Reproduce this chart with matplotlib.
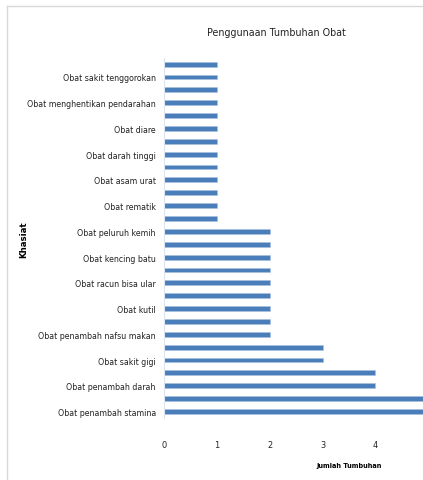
import matplotlib.pyplot as plt
from matplotlib.lines import Line2D
import numpy as np

# Khasiat yang tampil di sumbu (setiap kategori kedua), dari bawah ke atas
shown_labels = [
    "Obat penambah stamina",
    "Obat penambah darah",
    "Obat sakit gigi",
    "Obat penambah nafsu makan",
    "Obat kutil",
    "Obat racun bisa ular",
    "Obat kencing batu",
    "Obat peluruh kemih",
    "Obat rematik",
    "Obat asam urat",
    "Obat darah tinggi",
    "Obat diare",
    "Obat menghentikan pendarahan",
    "Obat sakit tenggorokan",
]

# Jumlah tumbuhan per khasiat, dari bawah ke atas (28 batang)
jumlah = [5, 5, 4, 4, 3, 3,
          2, 2, 2, 2, 2, 2, 2, 2, 2,
          1, 1, 1, 1, 1, 1, 1, 1, 1, 1, 1, 1, 1]

x_ticks = [0, 1, 2, 3, 4]

FONT = "DejaVu Sans"
STRETCH = "condensed"


def plot_chart(output_file):
    fig = plt.figure(figsize=(4.23, 4.81), dpi=100)
    ax = fig.add_axes([0.388, 0.129, 0.612, 0.749])

    pos = np.arange(len(jumlah))
    ax.barh(pos, jumlah, height=0.38, color="#4a7ebb", edgecolor="#a9c1df",
            linewidth=0.4)

    ax.set_xlim(0, 4.9)
    ax.set_ylim(-0.5, len(jumlah) - 0.5)

    ax.set_yticks(pos[::2])
    ax.set_yticklabels(shown_labels, family=FONT, stretch=STRETCH,
                       fontsize=6.3, color="#222222")
    ax.set_xticks(x_ticks)
    ax.set_xticklabels([str(t) for t in x_ticks], family=FONT, stretch=STRETCH,
                       fontsize=6.6, color="#222222")
    ax.tick_params(axis="both", length=0)
    ax.tick_params(axis="x", pad=16)
    ax.tick_params(axis="y", pad=6)

    for side in ["top", "right", "bottom"]:
        ax.spines[side].set_visible(False)
    ax.spines["left"].set_color("#dde6f0")
    ax.spines["left"].set_linewidth(0.8)

    # Judul dan label sumbu
    fig.text(276 / 423, 1 - 33 / 481, "Penggunaan Tumbuhan Obat", family=FONT,
             stretch=STRETCH, fontsize=7.7, ha="center", va="center",
             color="#222222")
    fig.text(349 / 423, 1 - 466 / 481, "Jumlah Tumbuhan", family=FONT,
             stretch=STRETCH, fontsize=5.2, weight="bold", ha="center",
             va="center")
    fig.text(24 / 423, 1 - 240 / 481, "Khasiat", family=FONT,
             fontsize=6.2, weight="bold", rotation=90, ha="center", va="center")

    # Bingkai tipis abu-abu di kiri dan atas
    fig.add_artist(Line2D([7 / 423, 7 / 423], [0, 1 - 7 / 481],
                          transform=fig.transFigure, color="#d9d9d9", lw=1))
    fig.add_artist(Line2D([7 / 423, 1], [1 - 7 / 481, 1 - 7 / 481],
                          transform=fig.transFigure, color="#d9d9d9", lw=1))

    fig.savefig(output_file, dpi=100)


if __name__ == "__main__":
    plot_chart("out.png")
